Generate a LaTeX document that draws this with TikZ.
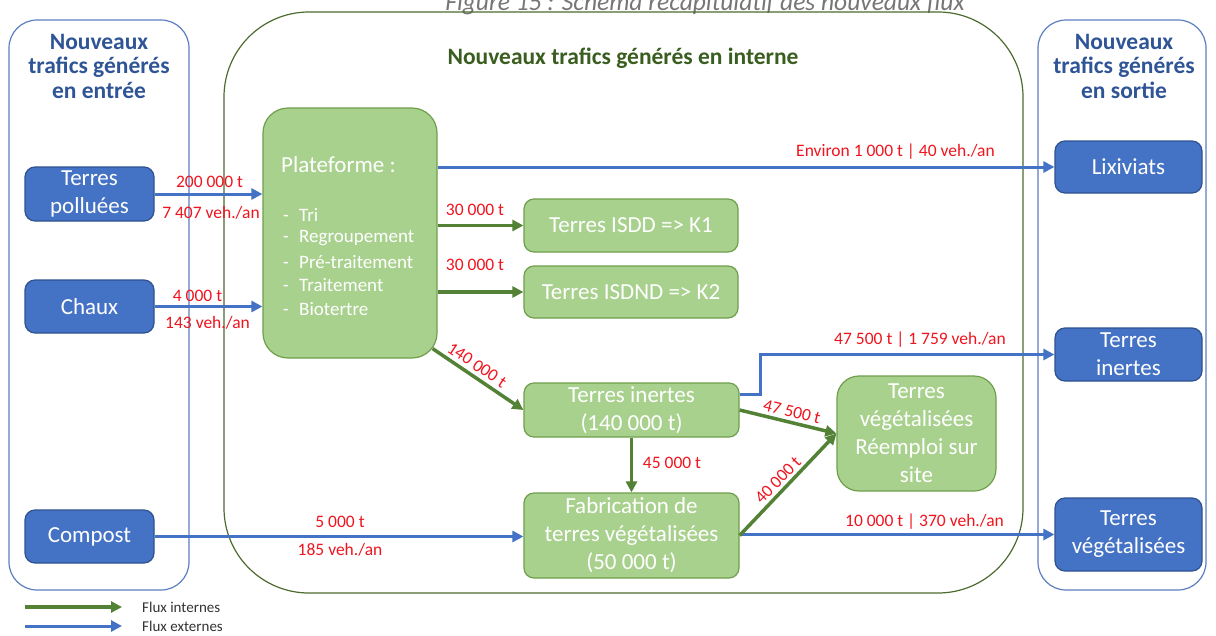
\documentclass[tikz,border=0pt]{standalone}
\usepackage{fontspec}
\setmainfont{Carlito}
\usetikzlibrary{arrows.meta,calc}
\definecolor{bfill}{HTML}{4472C4}
\definecolor{bdraw}{HTML}{2F528F}
\definecolor{gfill}{HTML}{A9D18E}
\definecolor{gdraw}{HTML}{6F9F4B}
\definecolor{garrow}{HTML}{538135}
\definecolor{barrow}{HTML}{4472C4}
\definecolor{lred}{HTML}{F0141E}
\definecolor{ttblue}{HTML}{2F5597}
\definecolor{ttgreen}{HTML}{3A5E1F}
\definecolor{frameg}{HTML}{4E6B30}
\definecolor{frameb}{HTML}{5A7EC0}
\definecolor{figgray}{HTML}{767676}
\begin{document}
\begin{tikzpicture}[x=1pt,y=-1pt,
 bbox/.style={draw=bdraw, line width=1.2pt, fill=bfill, rounded corners=10pt, text=white, font=\fontsize{23}{28}\selectfont, align=center, inner sep=0pt},
 gbox/.style={draw=gdraw, line width=1.2pt, fill=gfill, rounded corners=10pt, text=white, font=\fontsize{23}{28}\selectfont, align=center, inner sep=0pt},
 lab/.style={text=lred, font=\fontsize{17.5}{20}\selectfont, inner sep=0pt},
 ga/.style={draw=garrow, line width=3.5pt, -{Triangle[length=11pt,width=11pt]}},
 ba/.style={draw=barrow, line width=3pt, -{Triangle[length=11pt,width=11pt]}},
 frame/.style={draw, line width=1.2pt, inner sep=0pt},
 ttl/.style={font=\bfseries\fontsize{23.5}{24.5}\selectfont, align=center, inner sep=0pt},
 ptext/.style={text=white, inner sep=0pt},
 leg/.style={text=black!80, font=\fontsize{15}{18}\selectfont, inner sep=0pt, anchor=west}
]
\useasboundingbox (0,0) rectangle (1216,635);
\fill[white] (0,0) rectangle (1216,635);

% caption (cut at the top)
\node[font=\itshape\fontsize{25.5}{28}\selectfont, text=figgray, anchor=base, inner sep=0pt] (fig) at (705,10) {Figure 15 : Schéma récapitulatif des nouveaux flux};

% frames
\node[frame, draw=frameb, rounded corners=28pt, minimum width=180pt, minimum height=570pt] (fl) at (99,305) {};
\node[frame, draw=frameg, rounded corners=85pt, minimum width=799pt, minimum height=581pt] (fc) at (623.5,302.5) {};
\node[frame, draw=frameb, rounded corners=28pt, minimum width=168pt, minimum height=570pt] (fr) at (1122,305) {};

% titles
\node[ttl, text=ttblue] (tl) at (99,66) {Nouveaux\\trafics générés\\en entrée};
\node[ttl, text=ttblue] (tr) at (1124,66) {Nouveaux\\trafics générés\\en sortie};
\node[ttl, text=ttgreen] (tc) at (623,58) {Nouveaux trafics générés en interne};

% blue boxes
\node[bbox, minimum width=129pt, minimum height=54pt] (tp) at (89.5,194) {Terres\\polluées};
\node[bbox, minimum width=129pt, minimum height=53pt] (ch) at (89.5,306.5) {Chaux};
\node[bbox, minimum width=129pt, minimum height=53pt] (co) at (89.5,536.5) {Compost};
\node[bbox, minimum width=147pt, minimum height=52pt] (lx) at (1128.5,167) {Lixiviats};
\node[bbox, minimum width=147pt, minimum height=53pt] (tio) at (1128.5,354.5) {Terres\\inertes};
\node[bbox, minimum width=147pt, minimum height=73pt] (tvo) at (1128.5,534.5) {Terres\\végétalisées};

% green boxes
\node[gbox, rounded corners=25pt, minimum width=174pt, minimum height=250pt] (pf) at (350,233) {};
\node[ptext, anchor=west, font=\fontsize{23}{28}\selectfont] (pf0) at (281,165) {Plateforme :};
\node[ptext, anchor=west, font=\fontsize{19}{23}\selectfont] (pf1) at (283,215) {\makebox[16pt][l]{-}Tri};
\node[ptext, anchor=west, font=\fontsize{19}{23}\selectfont] (pf2) at (283,238.5) {\makebox[16pt][l]{-}Regroupement};
\node[ptext, anchor=west, font=\fontsize{19}{23}\selectfont] (pf3) at (283,262) {\makebox[16pt][l]{-}Pré-traitement};
\node[ptext, anchor=west, font=\fontsize{19}{23}\selectfont] (pf4) at (283,285.5) {\makebox[16pt][l]{-}Traitement};
\node[ptext, anchor=west, font=\fontsize{19}{23}\selectfont] (pf5) at (283,309) {\makebox[16pt][l]{-}Biotertre};

\node[gbox, minimum width=214pt, minimum height=53pt] (k1) at (631,225.5) {Terres ISDD => K1};
\node[gbox, minimum width=214pt, minimum height=52pt] (k2) at (631,292) {Terres ISDND => K2};
\node[gbox, minimum width=215pt, minimum height=54pt] (ti) at (631.5,410) {Terres inertes\\(140 000 t)};
\node[gbox, minimum width=215pt, minimum height=85pt] (fb) at (631.5,535.5) {Fabrication de\\terres végétalisées\\(50 000 t)};
\node[gbox, rounded corners=22pt, minimum width=159pt, minimum height=115pt] (re) at (916.5,433.5) {Terres\\végétalisées\\Réemploi sur\\site};

% external (blue) flows
\draw[ba] (tp.east) -- (tp.east -| pf.west);
\draw[ba] (ch.east) -- (ch.east -| pf.west);
\draw[ba] (co.east) -- (co.east -| fb.west);
\draw[ba] (pf.east |- lx.west) -- (lx.west);
\coordinate (tib) at ($(ti.east)+(0,-16)$);
\coordinate (tic) at (760,394);
\draw[ba] (tib) -- (tic) -- (tic |- tio.west) -- (tio.west);
\draw[ba] (fb.east |- tvo.west) -- (tvo.west);

% internal (green) flows
\draw[ga] (pf.east |- k1.west) -- (k1.west);
\draw[ga] (pf.east |- k2.west) -- (k2.west);
\coordinate (pfc) at ($(pf.south east)+(-5,-10)$);
\draw[ga] (pfc) -- (ti.west);
\draw[ga] (ti.south) -- (fb.north);
\draw[ga] (ti.east) -- (re.west);
\draw[ga] (fb.east) -- (re.west);

% labels
\node[lab] (l1) at (209.5,182) {200 000 t};
\node[lab] (l2) at (211,213) {7 407 veh./an};
\node[lab] (l3) at (197.5,296) {4 000 t};
\node[lab] (l4) at (207.5,323) {143 veh./an};
\node[lab] (l5) at (340,522) {5 000 t};
\node[lab] (l6) at (340,550) {185 veh./an};
\node[lab] (l7) at (895.5,152) {Environ 1 000 t | 40 veh./an};
\node[lab] (l8) at (475,210) {30 000 t};
\node[lab] (l9) at (475,265) {30 000 t};
\node[lab, rotate=-33.8] (l10) at (477,365) {140 000 t};
\node[lab] (l11) at (672,463) {45 000 t};
\node[lab] (l12) at (920,340) {47 500 t | 1 759 veh./an};
\node[lab, rotate=-13.8] (l13) at (792,412) {47 500 t};
\node[lab, rotate=46] (l14) at (778,480) {40 000 t};
\node[lab] (l15) at (924.5,522) {10 000 t | 370 veh./an};

% legend
\coordinate (lga) at (25,607);
\coordinate (lgb) at (122,607);
\coordinate (lba) at (25,626);
\coordinate (lbb) at (122,626);
\draw[ga] (lga) -- (lgb);
\draw[ba] (lba) -- (lbb);
\node[leg] (lgt) at (142,607) {Flux internes};
\node[leg] (lbt) at (142,626) {Flux externes};
\end{tikzpicture}
\end{document}
